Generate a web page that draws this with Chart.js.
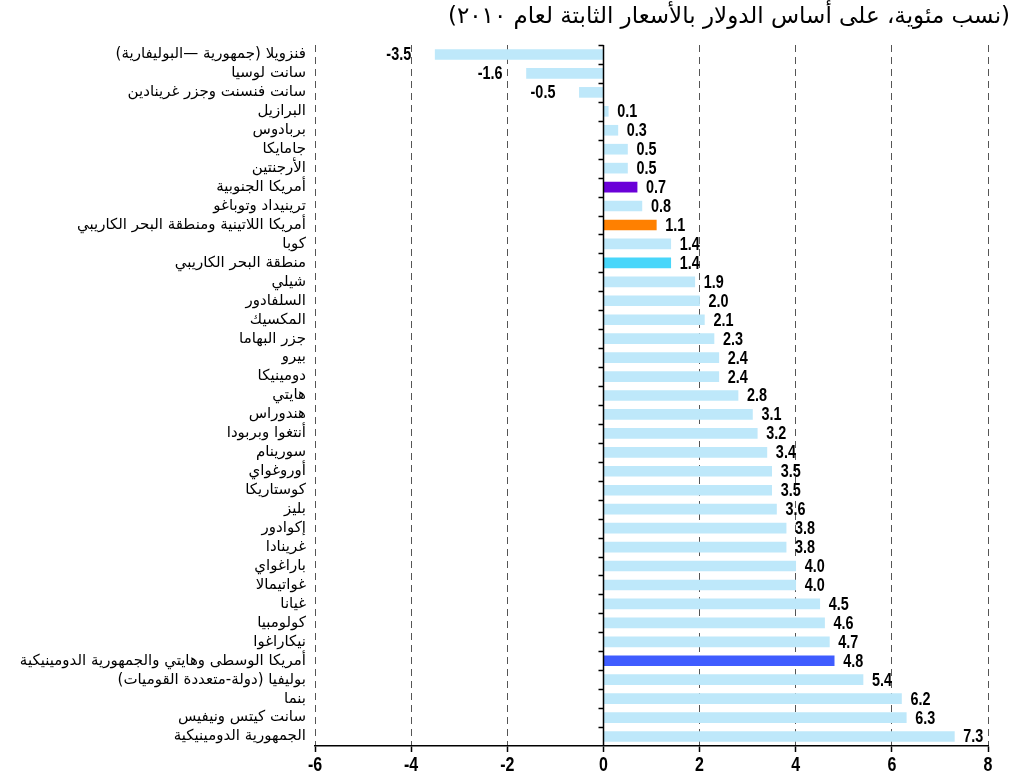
<!DOCTYPE html>
<html lang="ar">
<head>
<meta charset="utf-8">
<title>معدلات النمو</title>
<script src="https://cdn.jsdelivr.net/npm/chart.js@4/dist/chart.umd.min.js"></script>
<style>
  html, body { margin: 0; padding: 0; background: #fff; }
  #wrap { width: 1018px; height: 778px; position: relative; }
</style>
</head>
<body>
<div id="wrap"><canvas id="chart"></canvas></div>
<script>
// Countries and regions, top to bottom
const categories = [
  'فنزويلا (جمهورية —البوليفارية)',
  'سانت لوسيا',
  'سانت فنسنت وجزر غرينادين',
  'البرازيل',
  'بربادوس',
  'جامايكا',
  'الأرجنتين',
  'أمريكا الجنوبية',
  'ترينيداد وتوباغو',
  'أمريكا اللاتينية ومنطقة البحر الكاريبي',
  'كوبا',
  'منطقة البحر الكاريبي',
  'شيلي',
  'السلفادور',
  'المكسيك',
  'جزر البهاما',
  'بيرو',
  'دومينيكا',
  'هايتي',
  'هندوراس',
  'أنتغوا وبربودا',
  'سورينام',
  'أوروغواي',
  'كوستاريكا',
  'بليز',
  'إكوادور',
  'غرينادا',
  'باراغواي',
  'غواتيمالا',
  'غيانا',
  'كولومبيا',
  'نيكاراغوا',
  'أمريكا الوسطى وهايتي والجمهورية الدومينيكية',
  'بوليفيا (دولة-متعددة القوميات)',
  'بنما',
  'سانت كيتس ونيفيس',
  'الجمهورية الدومينيكية'
];

// Growth rate, percent
const values = [
  -3.5, -1.6, -0.5, 0.1, 0.3, 0.5, 0.5, 0.7, 0.8, 1.1,
  1.4, 1.4, 1.9, 2.0, 2.1, 2.3, 2.4, 2.4, 2.8, 3.1,
  3.2, 3.4, 3.5, 3.5, 3.6, 3.8, 3.8, 4.0, 4.0, 4.5,
  4.6, 4.7, 4.8, 5.4, 6.2, 6.3, 7.3
];

const xTickValues = [-6, -4, -2, 0, 2, 4, 6, 8];

const titleText = '(نسب مئوية، على أساس الدولار بالأسعار الثابتة لعام ٢٠١٠)';

// Aggregates get their own colour; countries share the default
const barColor = '#BEE8FA';
const aggregateColors = {
  'أمريكا الجنوبية': '#6A00D8',
  'أمريكا اللاتينية ومنطقة البحر الكاريبي': '#FF8000',
  'منطقة البحر الكاريبي': '#48D6FA',
  'أمريكا الوسطى وهايتي والجمهورية الدومينيكية': '#3F5CFF'
};

const numFont = "'Liberation Sans', Arial, sans-serif";
const arabicFont = "'DejaVu Sans', sans-serif";
const RLM = '\u200F';
const NARROW = 0.8;

// Bold narrow text: squeeze a regular bold face horizontally
function narrowText(ctx, txt, x, y, align, size) {
  ctx.save();
  ctx.font = 'bold ' + size + 'px ' + numFont;
  ctx.fillStyle = '#000';
  ctx.textBaseline = 'middle';
  ctx.direction = 'ltr';
  ctx.textAlign = align;
  ctx.translate(x, y);
  ctx.scale(NARROW, 1);
  ctx.fillText(txt, 0, 0);
  ctx.restore();
}

// Vertical axis through zero with tick marks between categories
const zeroAxis = {
  id: 'zeroAxis',
  afterDatasetsDraw(chart) {
    const { ctx, chartArea: a, scales: { x } } = chart;
    const x0 = Math.round(x.getPixelForValue(0)) + 0.5;
    ctx.save();
    ctx.strokeStyle = '#000';
    ctx.lineWidth = 1.5;
    ctx.beginPath();
    ctx.moveTo(x0, a.top);
    ctx.lineTo(x0, a.bottom);
    const n = categories.length;
    const step = (a.bottom - a.top) / n;
    for (let i = 0; i < n; i++) {
      const y = Math.round(a.top + i * step) + 0.5;
      ctx.moveTo(x0 - 5, y);
      ctx.lineTo(x0, y);
    }
    ctx.stroke();
    ctx.restore();
  }
};

// Value printed at the end of each bar, and the value-axis numbers
const valueLabels = {
  id: 'valueLabels',
  afterDatasetsDraw(chart) {
    const { ctx } = chart;
    const meta = chart.getDatasetMeta(0);
    meta.data.forEach((bar, i) => {
      const v = values[i];
      const txt = v.toFixed(1);
      if (v >= 0) {
        narrowText(ctx, txt, bar.x + 9, bar.y + 1, 'left', 18);
      } else {
        narrowText(ctx, txt, bar.x - 24, bar.y + 1, 'right', 18);
      }
    });
    const xs = chart.scales.x;
    xs.ticks.forEach(t => {
      narrowText(ctx, String(t.value), xs.getPixelForValue(t.value), xs.top + 19, 'center', 20);
    });
  }
};

// Units note in the top right corner
const unitsTitle = {
  id: 'unitsTitle',
  afterDraw(chart) {
    const { ctx } = chart;
    ctx.save();
    ctx.font = '23px ' + arabicFont;
    ctx.fillStyle = '#000';
    ctx.direction = 'rtl';
    ctx.textAlign = 'right';
    ctx.textBaseline = 'middle';
    ctx.fillText(titleText, 1010, 17);
    ctx.restore();
  }
};

new Chart(document.getElementById('chart'), {
  type: 'bar',
  data: {
    labels: categories,
    datasets: [{
      data: values,
      backgroundColor: categories.map(c => aggregateColors[c] || barColor),
      borderWidth: 0,
      barThickness: 10
    }]
  },
  options: {
    indexAxis: 'y',
    responsive: true,
    maintainAspectRatio: false,
    animation: false,
    layout: { padding: { top: 45, right: 30, left: 0, bottom: 0 } },
    plugins: {
      legend: { display: false },
      tooltip: { enabled: false },
      title: { display: false }
    },
    scales: {
      x: {
        type: 'linear',
        position: 'bottom',
        min: -6,
        max: 8,
        afterBuildTicks(s) { s.ticks = xTickValues.map(v => ({ value: v })); },
        afterFit(s) { s.height = 32; },
        grid: {
          color: c => (c.tick && c.tick.value === 0) ? 'rgba(0,0,0,0)' : '#555',
          lineWidth: 1,
          drawTicks: true,
          tickLength: 6,
          tickColor: '#000',
          tickWidth: 1.5
        },
        border: { display: true, color: '#000', width: 1.5, dash: [7, 5] },
        ticks: { display: false }
      },
      y: {
        type: 'category',
        position: 'left',
        afterFit(s) { s.width = 315; },
        grid: { display: false, drawTicks: false },
        border: { display: false },
        ticks: {
          autoSkip: false,
          color: '#000',
          padding: 9,
          font: { family: arabicFont, size: 15 },
          callback: (v, i) => RLM + categories[i] + RLM
        }
      }
    }
  },
  plugins: [zeroAxis, valueLabels, unitsTitle]
});
</script>
</body>
</html>
